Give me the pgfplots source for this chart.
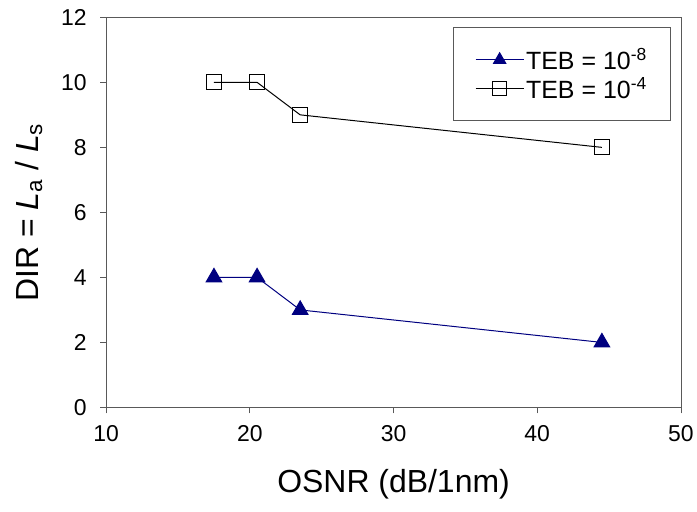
\documentclass[border=0pt]{standalone}
\usepackage{pgfplots}
\pgfplotsset{compat=1.18}
\usepackage{fontspec}
\setmainfont{Liberation Sans}
\definecolor{navy}{RGB}{0,0,128}
\begin{document}
\begin{tikzpicture}
\begin{axis}[
  name=ax,
  scale only axis,
  width=576pt, height=391pt,
  xmin=10, xmax=50, ymin=0, ymax=12,
  xtick={10,20,30,40,50}, ytick={0,2,4,6,8,10,12},
  /pgf/number format/assume math mode=true,
  tick label style={font=\fontsize{23}{26}\selectfont},
  xticklabel style={yshift=-9pt},
  yticklabel style={xshift=-10pt},
  tick align=outside, tick pos=left,
  major tick length=6pt,
  every tick/.style={gray!70!black, line width=0.8pt},
  axis line style={gray!70!black, line width=0.8pt},
  xlabel={OSNR (dB/1nm)},
  ylabel={DIR = \textit{L}\textsubscript{a} / \textit{L}\textsubscript{s}},
  label style={font=\fontsize{32}{36}\selectfont},
  xlabel style={yshift=-20pt},
  ylabel style={yshift=12pt},
  legend style={at={(0.983,0.975)}, anchor=north east, draw=gray!70!black, line width=0.8pt,
    font=\fontsize{25}{28}\selectfont, inner xsep=22pt, inner ysep=19pt, row sep=2pt},
  legend cell align=left,
  legend image code/.code={\draw[mark repeat=2, mark phase=2, mark size=7pt]
    plot coordinates {(0pt,0pt) (24pt,0pt) (48pt,0pt)};},
]
\addplot[navy, line width=1pt, mark=triangle*, mark size=9pt, mark options={fill=navy, draw=navy}]
  coordinates {(17.5,4) (20.5,4) (23.5,3) (44.5,2)};
\addlegendentry{TEB = 10\textsuperscript{-8}}
\addplot[black, line width=1pt, mark=square, mark size=7.5pt, mark options={fill=white, draw=black, line width=1pt}]
  coordinates {(17.5,10) (20.5,10) (23.5,9) (44.5,8)};
\addlegendentry{TEB = 10\textsuperscript{-4}}
\end{axis}
\path (current bounding box.west) ++(-12pt,0);
\path (current bounding box.south) ++(0,-9pt);
\path (current bounding box.north) ++(0,6pt);
\end{tikzpicture}
\end{document}
